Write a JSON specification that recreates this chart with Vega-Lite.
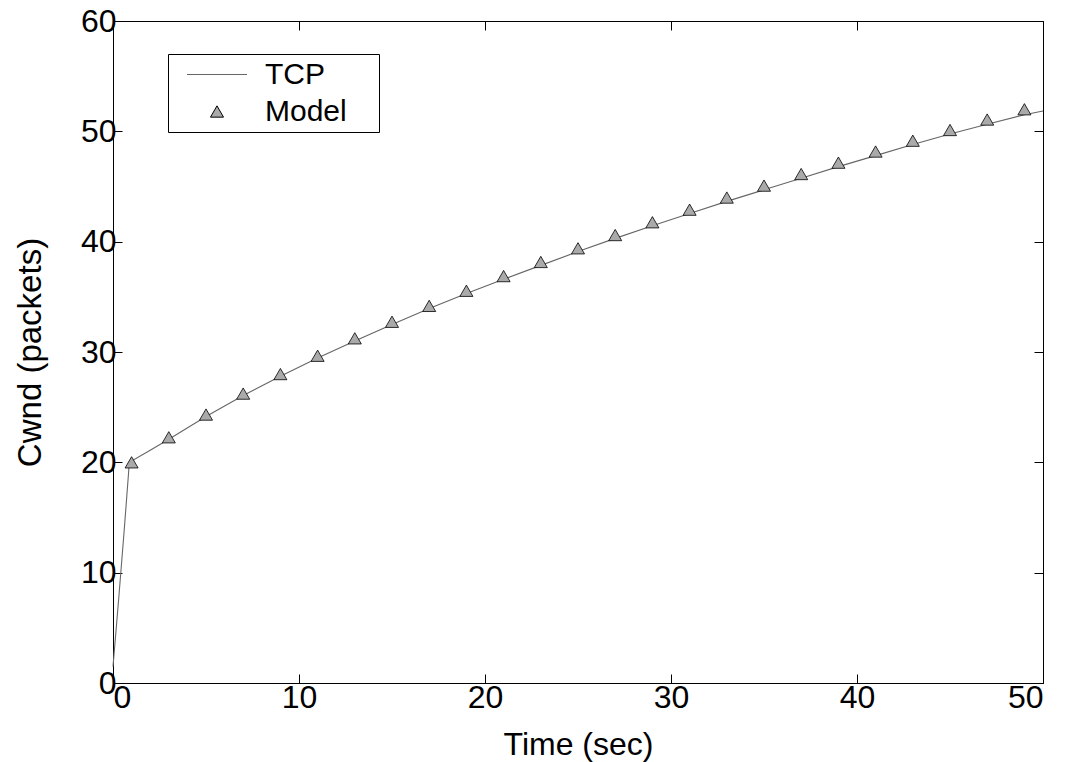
{
  "$schema": "https://vega.github.io/schema/vega-lite/v6.json",
  "width": 930,
  "height": 662,
  "autosize": "none",
  "padding": {"left": 113, "top": 21, "right": 22, "bottom": 79},
  "background": "white",
  "config": {
    "font": "Liberation Sans",
    "view": {"stroke": "black", "strokeWidth": 1},
    "axis": {
      "grid": false,
      "domainColor": "black",
      "tickColor": "black",
      "tickSize": -9,
      "labelFont": "Liberation Sans",
      "labelFontSize": 32,
      "labelColor": "black",
      "titleFont": "Liberation Sans",
      "titleFontSize": 32,
      "titleFontWeight": "normal",
      "titleColor": "black"
    },
    "legend": {
      "labelFont": "Liberation Sans",
      "labelFontSize": 30,
      "labelColor": "black",
      "symbolStrokeWidth": 1,
      "symbolOpacity": 1
    }
  },
  "datasets": {
    "tcp": [
      {"t": 0, "w": 1.5, "series": "TCP"},
      {"t": 0.3, "w": 7.5, "series": "TCP"},
      {"t": 0.6, "w": 13.8, "series": "TCP"},
      {"t": 0.88, "w": 20.0, "series": "TCP"},
      {"t": 2, "w": 21.1, "series": "TCP"},
      {"t": 3, "w": 22.1, "series": "TCP"},
      {"t": 5, "w": 24.15, "series": "TCP"},
      {"t": 7, "w": 26.05, "series": "TCP"},
      {"t": 9, "w": 27.8, "series": "TCP"},
      {"t": 11, "w": 29.45, "series": "TCP"},
      {"t": 13, "w": 31.0, "series": "TCP"},
      {"t": 15, "w": 32.5, "series": "TCP"},
      {"t": 17, "w": 33.95, "series": "TCP"},
      {"t": 19, "w": 35.3, "series": "TCP"},
      {"t": 21, "w": 36.6, "series": "TCP"},
      {"t": 23, "w": 37.85, "series": "TCP"},
      {"t": 25, "w": 39.1, "series": "TCP"},
      {"t": 27, "w": 40.3, "series": "TCP"},
      {"t": 29, "w": 41.45, "series": "TCP"},
      {"t": 31, "w": 42.55, "series": "TCP"},
      {"t": 33, "w": 43.65, "series": "TCP"},
      {"t": 35, "w": 44.7, "series": "TCP"},
      {"t": 37, "w": 45.75, "series": "TCP"},
      {"t": 39, "w": 46.8, "series": "TCP"},
      {"t": 41, "w": 47.8, "series": "TCP"},
      {"t": 43, "w": 48.8, "series": "TCP"},
      {"t": 45, "w": 49.75, "series": "TCP"},
      {"t": 47, "w": 50.65, "series": "TCP"},
      {"t": 49, "w": 51.5, "series": "TCP"},
      {"t": 50, "w": 51.85, "series": "TCP"}
    ],
    "model": [
      {"t": 1, "w": 20.0, "series": "Model"},
      {"t": 3, "w": 22.27, "series": "Model"},
      {"t": 5, "w": 24.33, "series": "Model"},
      {"t": 7, "w": 26.23, "series": "Model"},
      {"t": 9, "w": 28.0, "series": "Model"},
      {"t": 11, "w": 29.66, "series": "Model"},
      {"t": 13, "w": 31.24, "series": "Model"},
      {"t": 15, "w": 32.74, "series": "Model"},
      {"t": 17, "w": 34.18, "series": "Model"},
      {"t": 19, "w": 35.55, "series": "Model"},
      {"t": 21, "w": 36.88, "series": "Model"},
      {"t": 23, "w": 38.16, "series": "Model"},
      {"t": 25, "w": 39.4, "series": "Model"},
      {"t": 27, "w": 40.6, "series": "Model"},
      {"t": 29, "w": 41.76, "series": "Model"},
      {"t": 31, "w": 42.9, "series": "Model"},
      {"t": 33, "w": 44.0, "series": "Model"},
      {"t": 35, "w": 45.08, "series": "Model"},
      {"t": 37, "w": 46.13, "series": "Model"},
      {"t": 39, "w": 47.16, "series": "Model"},
      {"t": 41, "w": 48.17, "series": "Model"},
      {"t": 43, "w": 49.15, "series": "Model"},
      {"t": 45, "w": 50.12, "series": "Model"},
      {"t": 47, "w": 51.07, "series": "Model"},
      {"t": 49, "w": 52.0, "series": "Model"}
    ],
    "legend": [
      {"t": 1, "w": 20.0, "series": "TCP"},
      {"t": 1, "w": 20.0, "series": "Model"}
    ]
  },
  "layer": [
    {
      "data": {"name": "tcp"},
      "mark": {"type": "line", "strokeWidth": 1.1, "color": "#666666", "interpolate": "linear"},
      "encoding": {
        "x": {"field": "t", "type": "quantitative", "scale": {"domain": [0, 50], "nice": false, "zero": false},
              "axis": {"orient": "bottom", "title": "Time (sec)", "values": [0, 10, 20, 30, 40, 50], "labelPadding": 8, "titlePadding": 16}},
        "y": {"field": "w", "type": "quantitative", "scale": {"domain": [0, 60], "nice": false, "zero": false},
              "axis": {"orient": "left", "title": "Cwnd (packets)", "titleFontSize": 33, "values": [0, 10, 20, 30, 40, 50, 60], "labelPadding": 6, "titlePadding": 33}}
      }
    },
    {
      "data": {"name": "model"},
      "mark": {"type": "point", "filled": true, "fill": "#aaaaaa", "stroke": "black", "strokeWidth": 0.8, "opacity": 1, "shape": "triangle-up", "size": 170},
      "encoding": {
        "x": {"field": "t", "type": "quantitative", "scale": {"domain": [0, 50], "nice": false, "zero": false},
              "axis": {"orient": "top", "title": null, "labels": false, "values": [0, 10, 20, 30, 40, 50]}},
        "y": {"field": "w", "type": "quantitative", "scale": {"domain": [0, 60], "nice": false, "zero": false},
              "axis": {"orient": "right", "title": null, "labels": false, "values": [0, 10, 20, 30, 40, 50, 60]}}
      }
    },
    {
      "data": {"name": "legend"},
      "mark": {"type": "point", "opacity": 0},
      "encoding": {
        "x": {"field": "t", "type": "quantitative", "axis": null},
        "y": {"field": "w", "type": "quantitative", "axis": null},
        "shape": {"field": "series", "type": "nominal",
                  "scale": {"domain": ["TCP", "Model"], "range": ["stroke", "triangle-up"]},
                  "legend": {"title": "\u00a0", "titleOrient": "right", "titleFontSize": 10, "titlePadding": 27, "orient": "none", "legendX": 55, "legendY": 33, "strokeColor": "black", "fillColor": "white", "padding": 5.5, "clipHeight": 30, "rowPadding": 7, "symbolOffset": 13, "labelOffset": 17.5}},
        "fill": {"field": "series", "type": "nominal",
                  "scale": {"domain": ["TCP", "Model"], "range": ["transparent", "#aaaaaa"]},
                  "legend": {"title": "\u00a0", "titleOrient": "right", "titleFontSize": 10, "titlePadding": 27, "orient": "none", "legendX": 55, "legendY": 33, "strokeColor": "black", "fillColor": "white", "padding": 5.5, "clipHeight": 30, "rowPadding": 7, "symbolOffset": 13, "labelOffset": 17.5}},
        "stroke": {"field": "series", "type": "nominal",
                  "scale": {"domain": ["TCP", "Model"], "range": ["#666666", "#000000"]},
                  "legend": {"title": "\u00a0", "titleOrient": "right", "titleFontSize": 10, "titlePadding": 27, "orient": "none", "legendX": 55, "legendY": 33, "strokeColor": "black", "fillColor": "white", "padding": 5.5, "clipHeight": 30, "rowPadding": 7, "symbolOffset": 13, "labelOffset": 17.5}},
        "size": {"field": "series", "type": "nominal",
                  "scale": {"domain": ["TCP", "Model"], "range": [3600, 170]},
                  "legend": {"title": "\u00a0", "titleOrient": "right", "titleFontSize": 10, "titlePadding": 27, "orient": "none", "legendX": 55, "legendY": 33, "strokeColor": "black", "fillColor": "white", "padding": 5.5, "clipHeight": 30, "rowPadding": 7, "symbolOffset": 13, "labelOffset": 17.5}}
      }
    }
  ],
  "resolve": {"axis": {"x": "independent", "y": "independent"}}
}
